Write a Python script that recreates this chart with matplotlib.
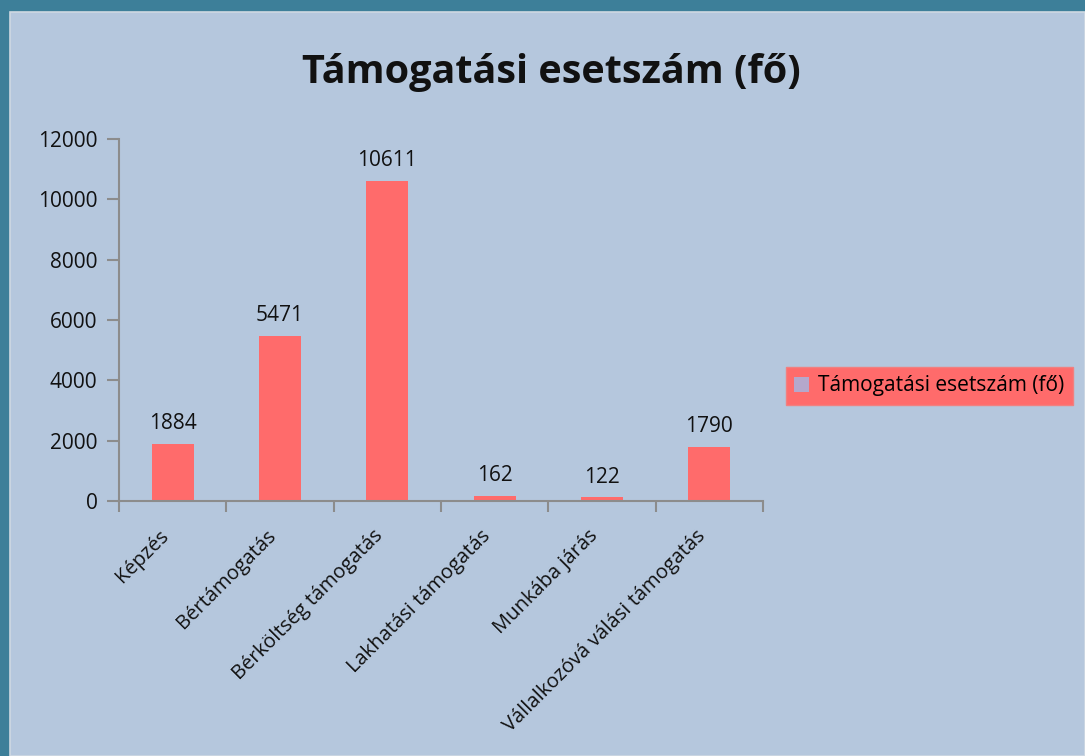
import numpy as np
import matplotlib
matplotlib.use("Agg")
import matplotlib.pyplot as plt
from matplotlib.patches import Rectangle, Patch

plt.rcParams['font.family'] = ['Open Sans', 'DejaVu Sans']

# data
categories = ['Képzés', 'Bértámogatás', 'Bérköltség támogatás',
              'Lakhatási támogatás', 'Munkába járás',
              'Vállalkozóvá válási támogatás']
values = [1884, 5471, 10611, 162, 122, 1790]
series_name = 'Támogatási esetszám (fő)'
yticks = [0, 2000, 4000, 6000, 8000, 10000, 12000]

bar_color = '#ff6b6b'
panel_color = '#b5c7dd'
border_color = '#3d7f99'
axis_color = '#8c8c8c'

fig = plt.figure(figsize=(10.85, 7.56), dpi=100)
fig.patch.set_facecolor(border_color)
# light chart panel inside the dark frame
fig.patches.append(Rectangle((10/1085, 0), 1 - 10/1085, (756-12)/756,
                             transform=fig.transFigure, facecolor=panel_color,
                             edgecolor='#cfd8e2', linewidth=1.2, zorder=-5))

ax = fig.add_axes([119/1085, (756-501)/756, (763-119)/1085, (501-139)/756])
ax.set_facecolor('none')
ax.set_zorder(2)

x = np.arange(len(categories))
bars = ax.bar(x, values, width=0.39, color=bar_color, zorder=2)

for xi, v in zip(x, values):
    ax.annotate(str(v), (xi, v), xytext=(0, 7), textcoords='offset points',
                ha='center', va='bottom', fontsize=15, color='#111111')

ax.set_xlim(-0.5, len(categories) - 0.5)
ax.set_ylim(0, 12000)
ax.set_yticks(yticks)
ax.set_yticklabels([str(t) for t in yticks], fontsize=15, color='#111111')
ax.tick_params(axis='y', length=8.5, width=1.5, color=axis_color, pad=7)

# category labels at centers, tick marks at boundaries
ax.set_xticks(x)
ax.set_xticklabels(categories, rotation=45, ha='right',
                   fontsize=14.5, color='#111111')
ax.tick_params(axis='x', which='major', length=0, pad=18)
ax.set_xticks(np.arange(-0.5, len(categories)), minor=True)
ax.tick_params(axis='x', which='minor', length=8, width=1.5, color=axis_color)

for s in ['top', 'right']:
    ax.spines[s].set_visible(False)
for s in ['left', 'bottom']:
    ax.spines[s].set_color(axis_color)
    ax.spines[s].set_linewidth(1.5)

fig.text(551/1085, 1 - 72/756, series_name, ha='center', va='center',
         fontsize=28.5, fontweight='bold', color='#111111')

leg = fig.legend(handles=[Patch(facecolor='#b5a8cc', edgecolor='none', label=series_name)],
                 loc='center left', bbox_to_anchor=(786/1085, 1 - 386/756),
                 frameon=True, fancybox=False, fontsize=15,
                 handlelength=0.7, handleheight=0.7, handletextpad=0.45,
                 borderpad=0.4, borderaxespad=0)
leg.get_frame().set_facecolor(bar_color)
leg.get_frame().set_edgecolor('#f08080')
leg.get_frame().set_alpha(1)

fig.savefig('out.png', dpi=100, facecolor=fig.get_facecolor())
